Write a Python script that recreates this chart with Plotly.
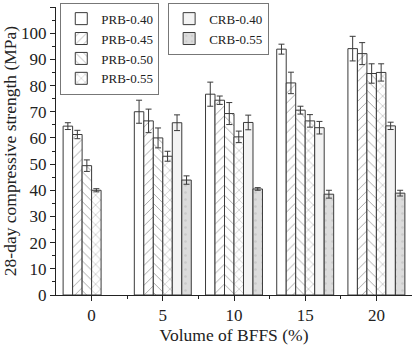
import plotly.graph_objects as go

volumes = [0, 5, 10, 15, 20]
series_names = ["PRB-0.40", "PRB-0.45", "PRB-0.50", "PRB-0.55", "CRB-0.40", "CRB-0.55"]

prb040 = [64.5, 70.0, 76.7, 93.9, 94.1]
prb045 = [61.3, 66.5, 74.4, 81.0, 92.2]
prb050 = [49.4, 60.0, 69.3, 70.6, 84.6]
prb055 = [40.0, 53.0, 60.4, 66.5, 85.0]
crb040 = [None, 65.8, 65.9, 63.9, 64.6]
crb055 = [None, 43.9, 40.5, 38.5, 38.9]

err_prb040 = [1.3, 4.4, 4.6, 1.9, 4.7]
err_prb045 = [1.6, 4.5, 1.6, 4.1, 4.2]
err_prb050 = [2.2, 3.8, 4.2, 1.5, 3.7]
err_prb055 = [0.6, 1.9, 2.2, 2.4, 3.3]
err_crb040 = [0, 3.0, 2.8, 2.4, 1.4]
err_crb055 = [0, 1.6, 0.5, 1.5, 1.1]

values = [prb040, prb045, prb050, prb055, crb040, crb055]
errors = [err_prb040, err_prb045, err_prb050, err_prb055, err_crb040, err_crb055]

styles = [
    dict(fill="white", shape="", fg="#333"),
    dict(fill="white", shape="/", fg="#333"),
    dict(fill="white", shape="\\", fg="#333"),
    dict(fill="white", shape="x", fg="#333"),
    dict(fill="#f3f3f3", shape="", fg="#ccc"),
    dict(fill="#dcdcdc", shape=".", fg="#b8b8b8"),
]
legend_ids = ["legend", "legend", "legend", "legend", "legend2", "legend2"]

FONT = "Liberation Serif"
fig = go.Figure()
for name, v, e, st, lg in zip(series_names, values, errors, styles, legend_ids):
    pattern = dict(shape=st["shape"], fgcolor=st["fg"], bgcolor=st["fill"],
                   size=7, solidity=0.12, fillmode="overlay")
    fig.add_trace(go.Bar(
        x=volumes, y=v, name=name, legend=lg,
        marker=dict(color=st["fill"], pattern=pattern,
                    line=dict(color="#3a3a3a", width=1)),
        error_y=dict(type="data", array=e, color="#3a3a3a", thickness=1, width=3),
    ))

fig.update_layout(
    width=415, height=348,
    margin=dict(l=56, r=3, t=7, b=53),
    barmode="group", bargap=0.2, bargroupgap=0,
    plot_bgcolor="white", paper_bgcolor="white",
    font=dict(family=FONT, size=17, color="#222"),
    legend=dict(x=0.012, y=1.015, xanchor="left", yanchor="top",
                bordercolor="#777", borderwidth=1, bgcolor="white",
                font=dict(family=FONT, size=13, color="#222"),
                tracegroupgap=0, itemwidth=30),
    legend2=dict(x=0.315, y=1.015, xanchor="left", yanchor="top",
                 bordercolor="#777", borderwidth=1, bgcolor="white",
                 font=dict(family=FONT, size=13, color="#222"),
                 tracegroupgap=0, itemwidth=30),
    xaxis=dict(
        range=[-2.5, 22.5], tickmode="array", tickvals=volumes,
        ticktext=[str(v) for v in volumes],
        showline=True, linecolor="#222", linewidth=1,
        ticks="outside", ticklen=5, tickcolor="#222",
        minor=dict(tickmode="array", tickvals=[2.5, 7.5, 12.5, 17.5],
                   ticks="outside", ticklen=3, tickcolor="#222"),
        showgrid=False, zeroline=False,
        title=dict(text="Volume of BFFS (%)", font=dict(size=17.5), standoff=4),
        tickfont=dict(size=17),
    ),
    yaxis=dict(
        range=[0, 110], tickmode="linear", tick0=0, dtick=10,
        showline=True, linecolor="#222", linewidth=1,
        ticks="outside", ticklen=5, tickcolor="#222",
        minor=dict(dtick=5, ticks="outside", ticklen=3, tickcolor="#222"),
        showgrid=False, zeroline=False,
        title=dict(text="28-day compressive strength (MPa)", font=dict(size=17.5), standoff=2),
        tickfont=dict(size=17),
    ),
)

fig.write_html("out.html")
